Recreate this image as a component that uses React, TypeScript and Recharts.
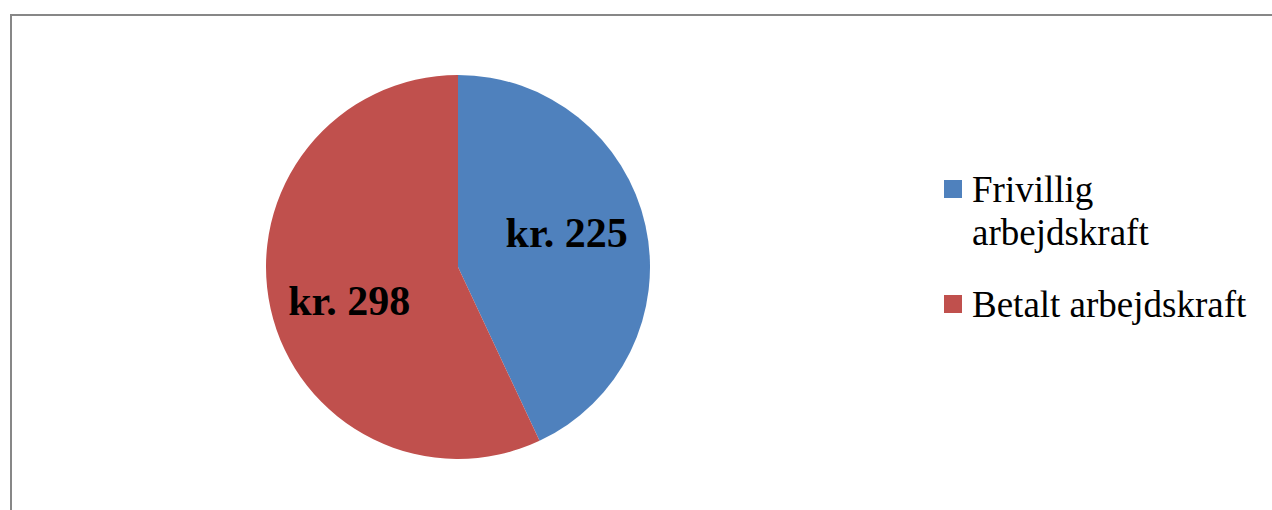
import { PieChart, Pie, Cell, Legend } from 'recharts'

const categories = ['Frivillig arbejdskraft', 'Betalt arbejdskraft']
const amounts = [225, 298]
const valueLabels = ['kr. 225', 'kr. 298']
const colors = ['#4F81BD', '#C0504D']

const data = categories.map((name, i) => ({ name, value: amounts[i], label: valueLabels[i] }))

const RAD = Math.PI / 180

function renderLabel(props: any) {
  const { cx, cy, midAngle, outerRadius, index } = props
  const rx = outerRadius * 0.58
  const ry = outerRadius * 0.82
  const x = cx + rx * Math.cos(-midAngle * RAD)
  const y = cy + ry * Math.sin(-midAngle * RAD)
  return (
    <text
      x={x}
      y={y}
      textAnchor="middle"
      dominantBaseline="central"
      fontFamily="'Liberation Serif', serif"
      fontWeight="bold"
      fontSize={42}
      fill="#000"
    >
      {data[index].label}
    </text>
  )
}

function LegendBox() {
  return (
    <div style={{ width: 330, fontFamily: "'Liberation Serif', serif", fontSize: 37, lineHeight: '43px', color: '#000' }}>
      {data.map((d, i) => (
        <div key={d.name} style={{ display: 'flex', alignItems: 'flex-start', marginBottom: i === 0 ? 29 : 0 }}>
          <span style={{ display: 'inline-block', width: 18, height: 18, background: colors[i], marginTop: 12, marginRight: 10, flexShrink: 0 }} />
          <span style={{ width: 290 }}>{d.name}</span>
        </div>
      ))}
    </div>
  )
}

export default function App() {
  return (
    <div style={{ position: 'fixed', left: 0, top: 0, width: 1272, height: 510, background: '#fff', overflow: 'hidden' }}>
      <div style={{ position: 'absolute', left: 10, top: 14, width: 1300, height: 600, borderLeft: '2px solid #878787', borderTop: '2px solid #878787' }} />
      <div style={{ position: 'absolute', left: 0, top: 0 }}>
        <PieChart width={1272} height={510} margin={{ top: 0, right: 0, bottom: 0, left: 0 }}>
          <Pie
            data={data}
            dataKey="value"
            nameKey="name"
            cx={458}
            cy={267}
            outerRadius={192}
            startAngle={90}
            endAngle={-270}
            stroke="none"
            label={renderLabel}
            labelLine={false}
            isAnimationActive={false}
          >
            {data.map((d, i) => (
              <Cell key={d.name} fill={colors[i]} />
            ))}
          </Pie>
          <Legend
            layout="vertical"
            align="right"
            verticalAlign="top"
            wrapperStyle={{ left: 944, top: 168, width: 330 }}
            content={() => <LegendBox />}
          />
        </PieChart>
      </div>
    </div>
  )
}
